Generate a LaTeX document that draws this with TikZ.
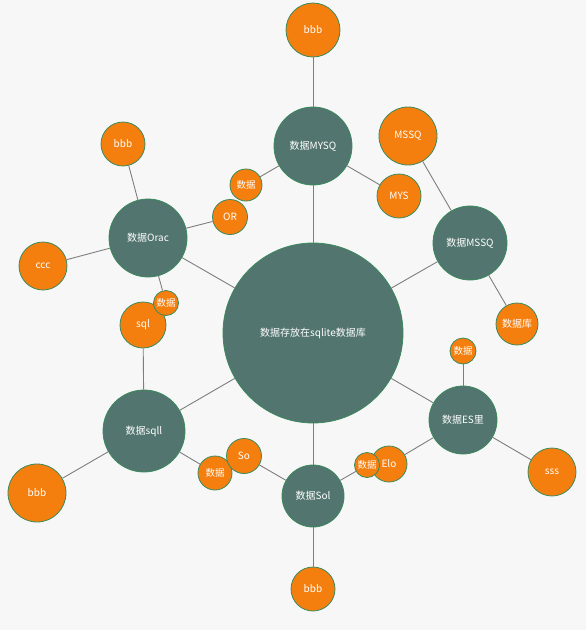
\documentclass[tikz,border=0pt]{standalone}
\usepackage{fontspec}
\setmainfont{Noto Sans CJK SC}
\definecolor{teal}{HTML}{52756F}
\definecolor{orng}{HTML}{F57F0E}
\definecolor{rim}{HTML}{3A8A5C}
\definecolor{wire}{HTML}{7E7E7E}
\definecolor{paper}{HTML}{F7F7F7}
\tikzset{
	hub/.style={circle, draw=rim, line width=0.8pt, fill=teal, inner sep=0pt, text=white, font=\fontsize{10}{12}\selectfont},
	leaf/.style={circle, draw=rim, line width=0.8pt, fill=orng, inner sep=0pt, text=white, font=\fontsize{10}{12}\selectfont},
	tiny/.style={leaf, font=\fontsize{9.5}{11}\selectfont},
	wire/.style={draw=wire, line width=0.9pt}
}
\begin{document}
\begin{tikzpicture}[x=1pt, y=-1pt]
	\fill[paper] (0, 0) rectangle (586, 630);
	\useasboundingbox (0, 0) rectangle (586, 630);
	\node[hub, minimum size=180] (0) at (313, 333) {数据存放在sqlite数据库};
	\node[hub, minimum size=78] (1) at (313, 146) {数据MYSQ};
	\node[hub, minimum size=78] (2) at (148, 238) {数据Orac};
	\node[hub, minimum size=74] (3) at (470, 243) {数据MSSQ};
	\node[hub, minimum size=82] (4) at (144, 431) {数据sqll};
	\node[hub, minimum size=62] (5) at (313, 496) {数据Sol};
	\node[hub, minimum size=68] (6) at (463, 420) {数据ES里};
	\node[leaf, minimum size=54] (7) at (313, 30) {bbb};
	\node[leaf, minimum size=44] (8) at (399, 196) {MYS};
	\node[leaf, minimum size=58] (9) at (408, 136) {MSSQ};
	\node[leaf, minimum size=42] (10) at (517, 324) {数据库};
	\node[tiny, minimum size=32] (11) at (246, 185) {数据};
	\node[leaf, minimum size=35] (12) at (230, 217) {OR};
	\node[leaf, minimum size=44] (13) at (123, 144) {bbb};
	\node[leaf, minimum size=48] (14) at (43, 266) {ccc};
	\node[leaf, minimum size=46] (15) at (143, 325) {sql};
	\node[tiny, minimum size=25] (16) at (166, 303) {数据};
	\node[leaf, minimum size=58] (17) at (37, 493) {bbb};
	\node[tiny, minimum size=34] (18) at (215, 473) {数据};
	\node[leaf, minimum size=35] (19) at (244, 456) {So};
	\node[leaf, minimum size=44] (20) at (313, 589) {bbb};
	\node[leaf, minimum size=36] (21) at (389, 464) {Elo};
	\node[tiny, minimum size=25] (22) at (367, 465) {数据};
	\node[tiny, minimum size=26] (23) at (463, 351) {数据};
	\node[leaf, minimum size=48] (24) at (552, 472) {sss};
	\draw[wire] (0) to (1);
	\draw[wire] (0) to (2);
	\draw[wire] (0) to (3);
	\draw[wire] (0) to (4);
	\draw[wire] (0) to (5);
	\draw[wire] (0) to (6);
	\draw[wire] (1) to (7);
	\draw[wire] (1) to (8);
	\draw[wire] (1) to (11);
	\draw[wire] (3) to (9);
	\draw[wire] (3) to (10);
	\draw[wire] (2) to (12);
	\draw[wire] (2) to (13);
	\draw[wire] (2) to (14);
	\draw[wire] (2) to (16);
	\draw[wire] (4) to (15);
	\draw[wire] (4) to (17);
	\draw[wire] (4) to (18);
	\draw[wire] (5) to (19);
	\draw[wire] (5) to (20);
	\draw[wire] (5) to (22);
	\draw[wire] (6) to (21);
	\draw[wire] (6) to (23);
	\draw[wire] (6) to (24);
\end{tikzpicture}
\end{document}
